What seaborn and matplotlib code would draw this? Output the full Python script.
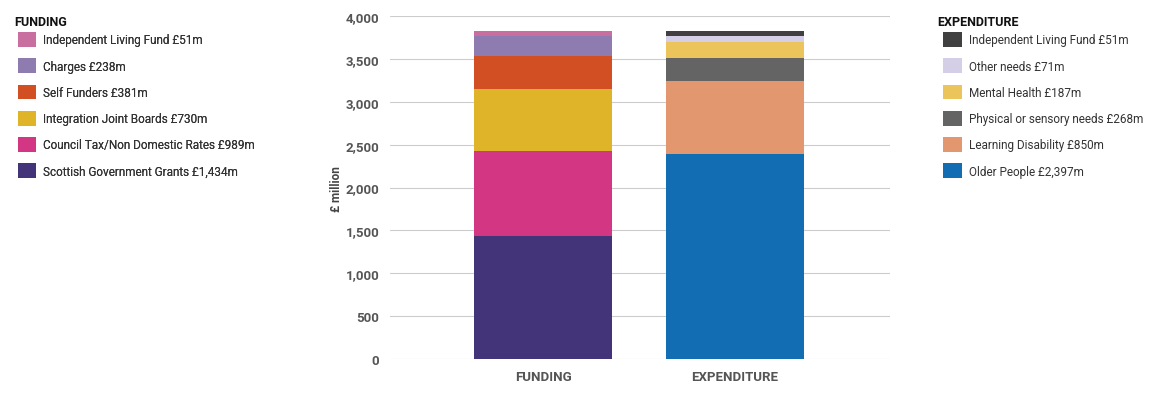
import matplotlib
matplotlib.use("Agg")
import matplotlib.pyplot as plt
import seaborn as sns
from matplotlib.patches import Patch

categories = ["FUNDING", "EXPENDITURE"]
fund_labels = ["Scottish Government Grants £1,434m", "Council Tax/Non Domestic Rates £989m",
               "Integration Joint Boards £730m", "Self Funders £381m", "Charges £238m",
               "Independent Living Fund £51m"]
fund_values = [1434, 989, 730, 381, 238, 51]
fund_colors = ["#433378", "#d33682", "#e0b428", "#d24f24", "#8e7bb0", "#c96fa0"]
exp_labels = ["Older People £2,397m", "Learning Disability £850m", "Physical or sensory needs £268m",
              "Mental Health £187m", "Other needs £71m", "Independent Living Fund £51m"]
exp_values = [2397, 850, 268, 187, 71, 51]
exp_colors = ["#136db3", "#e3976e", "#646464", "#ecc45c", "#d4cfe6", "#404040"]
yticks = [0, 500, 1000, 1500, 2000, 2500, 3000, 3500, 4000]

sns.set_style("white")
plt.rcParams['font.family'] = ['Roboto', 'DejaVu Sans']
fig = plt.figure(figsize=(11.69, 4.06), dpi=100)
ax = fig.add_axes([0.334, 0.113, 0.427, 0.845])

w = 0.72
for xi, vals, cols in [(0, fund_values, fund_colors), (1, exp_values, exp_colors)]:
    b = 0
    for v, c in zip(vals, cols):
        ax.bar(xi, v, bottom=b, width=w, color=c, linewidth=0, zorder=3)
        b += v

ax.set_xlim(-0.797, 1.807)
ax.set_ylim(0, 4000)
ax.set_yticks(yticks)
ax.set_yticklabels([f"{t:,}" for t in yticks], fontsize=9.5, color="#555555", fontweight="bold")
ax.set_xticks([0, 1])
ax.set_xticklabels(categories, fontsize=9.5, color="#555555", fontweight="bold")
ax.yaxis.grid(True, color="#cccccc", linewidth=0.8, zorder=0)
for s in ax.spines.values():
    s.set_visible(False)
ax.tick_params(length=0, pad=8)
ax.set_ylabel("£ million", fontsize=8.5, color="#444444", fontweight="bold", labelpad=2)

def mk_legend(labels, colors, x):
    handles = [Patch(facecolor=c, edgecolor="none") for c in colors][::-1]
    leg = fig.legend(handles, labels[::-1], loc="upper left", bbox_to_anchor=(x, 0.93),
                     frameon=False, fontsize=8.5, handlelength=1.55, handleheight=1.55,
                     labelspacing=0.97, handletextpad=0.6, borderaxespad=0)
    for t in leg.get_texts():
        t.set_color("#333333")
    return leg

l1 = mk_legend(fund_labels, fund_colors, 0.011)
l2 = mk_legend(exp_labels, exp_colors, 0.803)
fig.add_artist(l1)
fig.text(0.012, 0.935, "FUNDING", fontsize=9, fontweight="bold", color="#111111")
fig.text(0.802, 0.935, "EXPENDITURE", fontsize=9, fontweight="bold", color="#111111")

fig.savefig("out.png", dpi=100)
